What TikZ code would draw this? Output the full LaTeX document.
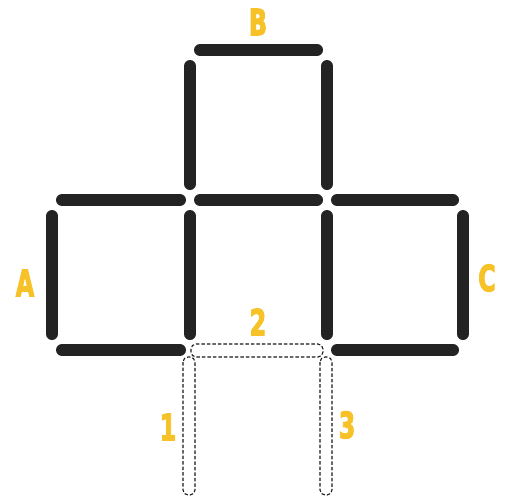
\documentclass[tikz,border=0pt]{standalone}
\usepackage{fontspec}
\newfontfamily\tagfont{DejaVu Sans}[FakeBold=3.5]
\usetikzlibrary{calc}
\definecolor{matchblack}{HTML}{232323}
\definecolor{tagyellow}{HTML}{F6C227}
\newcommand{\tagtext}[1]{\scalebox{0.66}[1]{#1}}

\begin{document}
\begin{tikzpicture}[
    x=1pt, y=-1pt,
    stick/.style={line width=12pt, line cap=round, matchblack},
    hstick/.style={stick, shorten <=10pt, shorten >=10pt},
    vstick/.style={stick, shorten <=16pt, shorten >=16pt},
    ghost/.style={draw=black!90, dash pattern=on 3.5pt off 2pt, line width=1.1pt, rounded corners=5pt},
    tag/.style={text=tagyellow, inner sep=0pt, font=\tagfont\bfseries\fontsize{36}{36}\selectfont}
  ]
    \useasboundingbox (0,0) rectangle (509,499);
    % grid points
    \foreach \c/\x in {0/52,1/190,2/327,3/463}
      \foreach \r/\y in {0/50,1/200,2/350,3/495}
        \coordinate (p\c\r) at (\x,\y);
    % top square
    \draw[hstick] (p10) -- (p20);
    \draw[vstick] (p10) -- (p11);
    \draw[vstick] (p20) -- (p21);
    % middle row
    \draw[hstick] (p01) -- (p11);
    \draw[hstick] (p11) -- (p21);
    \draw[hstick] (p21) -- (p31);
    \foreach \c in {0,1,2,3}
      \draw[vstick] (p\c1) -- (p\c2);
    \draw[hstick] (p02) -- (p12);
    \draw[hstick] (p22) -- (p32);
    % moved sticks
    \draw[ghost] ($(p12)+(1,-6)$) rectangle ($(p22)+(-4,7)$);
    \draw[ghost] ($(p12)+(-7,7)$) rectangle ($(p13)+(5,0)$);
    \draw[ghost] ($(p22)+(-7,7)$) rectangle ($(p23)+(5,0)$);
    % labels
    \node[tag] (tagB) at (258,22) {\tagtext{B}};
    \node[tag] (tagA) at (25,283) {\tagtext{A}};
    \node[tag] (tagC) at (487,278) {\tagtext{C}};
    \node[tag] (tag2) at (258,322) {\tagtext{2}};
    \node[tag] (tag1) at (168,427) {\tagtext{1}};
    \node[tag] (tag3) at (347,425) {\tagtext{3}};
  \end{tikzpicture}
\end{document}
